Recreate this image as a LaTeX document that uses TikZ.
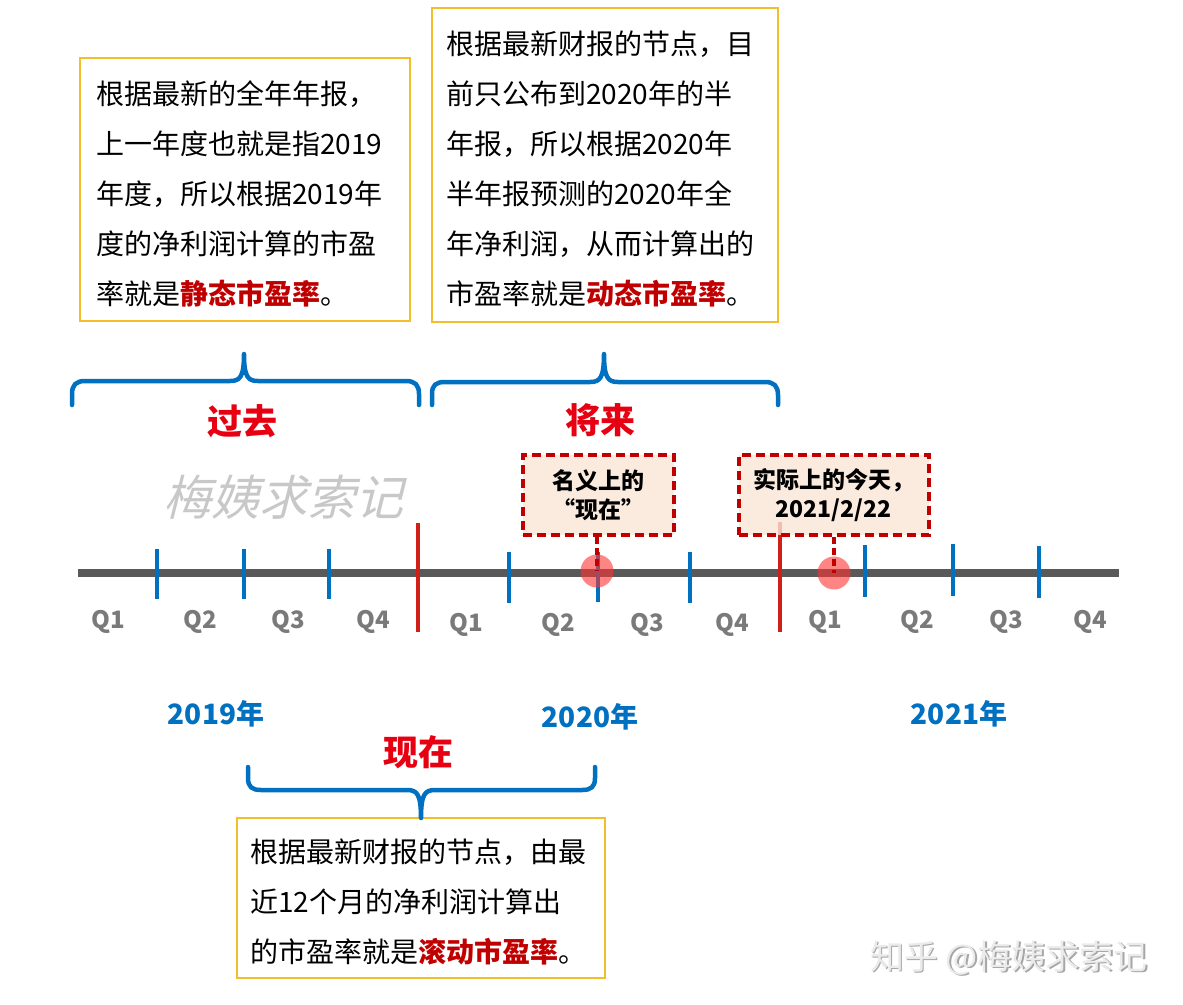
\documentclass[tikz,border=0pt]{standalone}
\usepackage{fontspec}
\setmainfont{Noto Sans CJK SC}
\newfontfamily\wmfont[FakeSlant=0.25]{Noto Sans CJK SC}
\definecolor{axisgray}{HTML}{595959}
\definecolor{tickblue}{HTML}{0070C0}
\definecolor{cutred}{HTML}{D0201A}
\definecolor{darkred}{HTML}{C00000}
\definecolor{labred}{HTML}{E60012}
\definecolor{qgray}{HTML}{7A7A7A}
\definecolor{gold}{HTML}{F2BE2C}
\definecolor{pinkfill}{HTML}{FBE5D6}
\definecolor{wmgray}{HTML}{C8C8C8}
\tikzset{
  axisline/.style={line width=8pt, axisgray},
  tickline/.style={line width=4.5pt, tickblue},
  cutline/.style={line width=4.5pt, cutred},
  bracepath/.style={line width=4.5pt, tickblue, line cap=round, line join=round},
  notebox/.style={draw=gold, line width=2pt, fill=white, align=left, anchor=north west,
    font=\fontsize{28}{50}\selectfont, inner ysep=0pt},
  tagbox/.style={draw=darkred, line width=3.5pt, dash pattern=on 9pt off 5pt,
    fill=pinkfill, fill opacity=0.8, text opacity=1, align=center,
    font=\bfseries\fontsize{23}{29}\selectfont, anchor=north west, inner sep=0pt},
  qlabel/.style={font=\bfseries\fontsize{24}{28}\selectfont, qgray},
  yearlabel/.style={font=\bfseries\fontsize{28}{32}\selectfont, tickblue},
  biglabel/.style={font=\bfseries\fontsize{35}{40}\selectfont, labred},
  dot/.style={circle, fill=red!80!white, fill opacity=0.6, minimum size=33pt, inner sep=0pt},
  connector/.style={darkred, line width=3.5pt, dash pattern=on 7pt off 4pt}
}
\newcommand{\hl}[1]{\textcolor{darkred}{\bfseries #1}}
\newcommand{\topstrut}{\rule{0pt}{32pt}}
\begin{document}
\begin{tikzpicture}[x=1pt,y=-1pt]
\useasboundingbox (0,0) rectangle (1183,1004);
\fill[white] (0,0) rectangle (1183,1004);

% note boxes
\node[notebox, minimum width=330pt, minimum height=263pt, text width=298pt, inner xsep=16pt] (note1) at (79,57)
 {\topstrut 根据最新的全年年报，\\上一年度也就是指2019\\年度，所以根据2019年\\度的净利润计算的市盈\\率就是\hl{静态市盈率}。};
\node[notebox, minimum width=346pt, minimum height=314pt, text width=318pt, inner xsep=14pt] (note2) at (431,7)
 {\topstrut 根据最新财报的节点，目\\前只公布到2020年的半\\年报，所以根据2020年\\半年报预测的2020年全\\年净利润，从而计算出的\\市盈率就是\hl{动态市盈率}。};
\node[notebox, minimum width=368pt, minimum height=160pt, text width=342pt, inner xsep=13pt] (note3) at (236,817)
 {\topstrut 根据最新财报的节点，由最\\近12个月的净利润计算出\\的市盈率就是\hl{滚动市盈率}。};

% braces
\draw[bracepath] (72,405) -- (72,394) .. controls (72,385) and (76,381) .. (85,381)
  -- (230,381) .. controls (240,381) and (244,377) .. (244,354)
  .. controls (244,377) and (248,381) .. (258,381) -- (406,381)
  .. controls (415,381) and (419,385) .. (419,394) -- (419,405);
\draw[bracepath] (432,405) -- (432,394) .. controls (432,385) and (436,382) .. (445,382)
  -- (590,382) .. controls (600,382) and (604,378) .. (604,354)
  .. controls (604,378) and (608,382) .. (618,382) -- (765,382)
  .. controls (774,382) and (778,386) .. (778,395) -- (778,405);
\draw[bracepath] (248,767) -- (248,778) .. controls (248,787) and (252,790) .. (261,790)
  -- (407,790) .. controls (417,790) and (421,794) .. (421,818)
  .. controls (421,794) and (425,790) .. (435,790) -- (582,790)
  .. controls (591,790) and (595,787) .. (595,778) -- (595,767);

\node[biglabel] (past) at (242,421) {过去};
\node[biglabel] (future) at (600,420) {将来};
\node[biglabel] (now) at (418,752) {现在};

% watermark
\node[font=\wmfont\fontsize{48}{52}\selectfont, wmgray] (wm) at (283,497) {梅姨求索记};

% axis
\coordinate (axL) at (78,573);
\coordinate (axR) at (1119,573);
\draw[axisline] (axL) -- (axR);
\foreach \x/\a/\b in {157/549/599, 244/549/599, 329/549/599, 509/552/603, 598/552/602, 690/552/603, 865/545/597, 953/544/596, 1039/546/598}
  \draw[tickline] (\x,\a) -- (\x,\b);
\draw[cutline] (418,523) -- (418,632);
\draw[cutline] (780,522) -- (780,632);

% quarter labels
\foreach \x/\y/\t in {108/622/Q1, 200/622/Q2, 288/622/Q3, 373/622/Q4,
  466/625/Q1, 558/625/Q2, 647/625/Q3, 732/625/Q4,
  825/622/Q1, 917/622/Q2, 1006/622/Q3, 1090/622/Q4}
  \node[qlabel] at (\x,\y) {\t};

\node[yearlabel] (y2019) at (216,714) {2019年};
\node[yearlabel] (y2020) at (590,717) {2020年};
\node[yearlabel] (y2021) at (959,714) {2021年};

% markers
\node[dot] (dotA) at (597,571) {};
\node[dot] (dotB) at (834,573) {};
\node[tagbox, minimum width=151pt, minimum height=80pt] (tagA) at (521,453) {名义上的\\“现在”};
\node[tagbox, minimum width=190pt, minimum height=80pt] (tagB) at (737,453) {实际上的今天，\\2021/2/22};
\draw[connector] (tagA.south -| dotA) -- (dotA.center);
\draw[connector] (tagB.south -| dotB) -- (dotB.center);

% site watermark
\node[font=\fontsize{34}{38}\selectfont, gray!70] at (1010.5,959.5) {知乎 @梅姨求索记};
\node[font=\fontsize{34}{38}\selectfont, black!8] (site) at (1009,958) {知乎 @梅姨求索记};
\end{tikzpicture}
\end{document}
